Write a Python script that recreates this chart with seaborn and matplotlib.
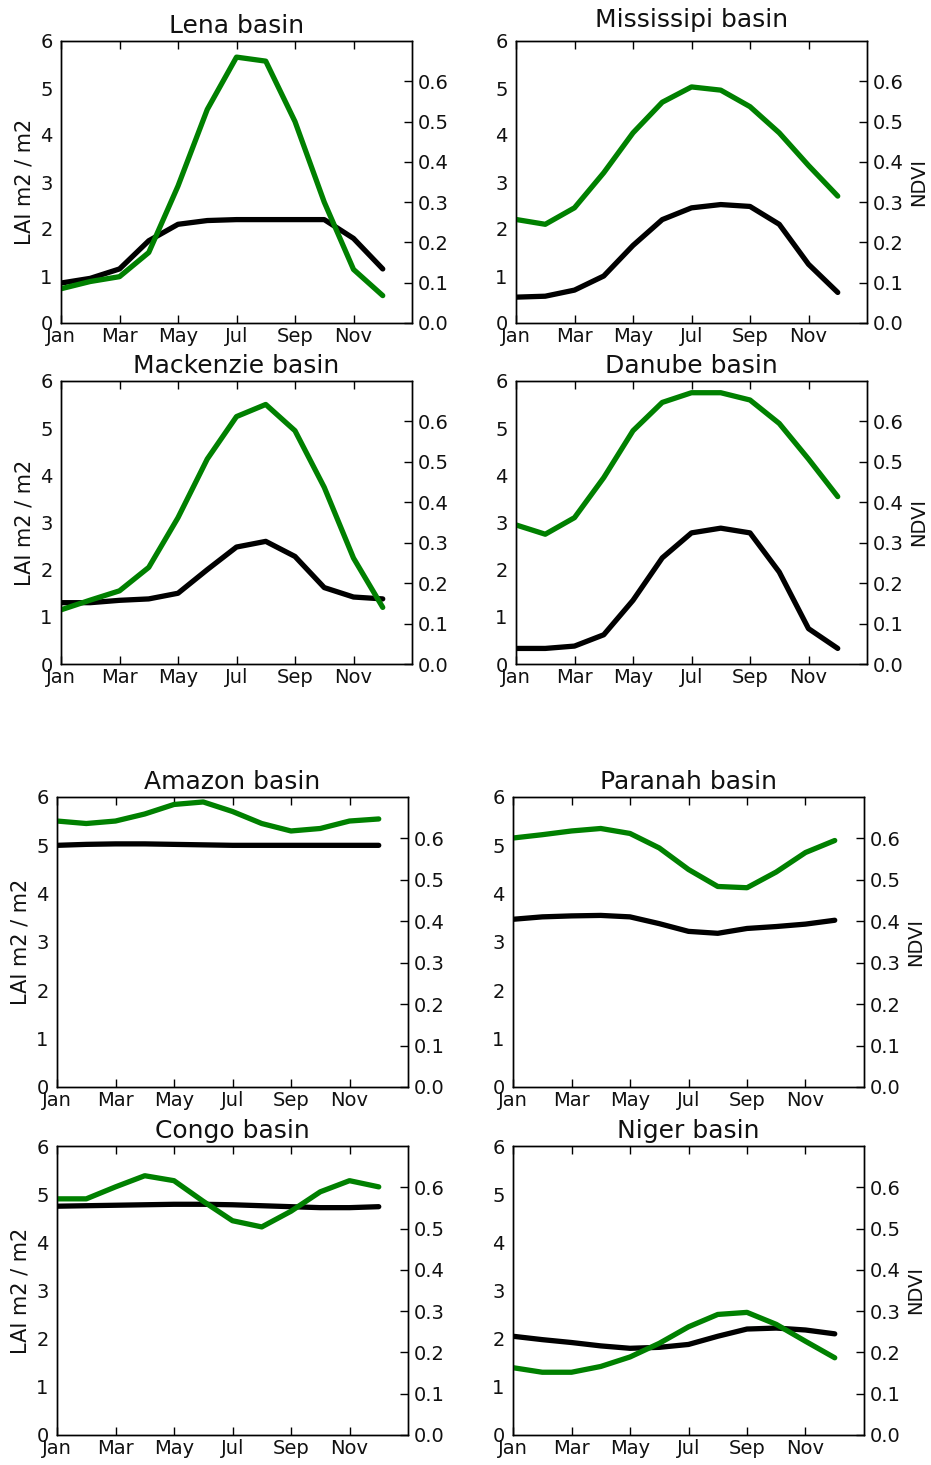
import numpy as np
import pandas as pd
import matplotlib
matplotlib.use("Agg")
import matplotlib.pyplot as plt
import seaborn as sns

# ---------------- data ----------------
months = ["Jan", "Feb", "Mar", "Apr", "May", "Jun", "Jul", "Aug", "Sep", "Oct", "Nov", "Dec"]
tick_months = ["Jan", "Mar", "May", "Jul", "Sep", "Nov"]
lai_ticks = [0, 1, 2, 3, 4, 5, 6]
ndvi_ticks = [0.0, 0.1, 0.2, 0.3, 0.4, 0.5, 0.6]

basins = ["Lena", "Mississipi", "Mackenzie", "Danube", "Amazon", "Paranah", "Congo", "Niger"]

lai_lena = [0.85, 0.95, 1.15, 1.75, 2.1, 2.18, 2.2, 2.2, 2.2, 2.2, 1.8, 1.15]
ndvi_lena = [0.085, 0.103, 0.115, 0.175, 0.34, 0.53, 0.66, 0.65, 0.50, 0.30, 0.133, 0.068]

lai_mississipi = [0.55, 0.57, 0.7, 1.0, 1.65, 2.2, 2.45, 2.52, 2.48, 2.1, 1.25, 0.65]
ndvi_mississipi = [0.257, 0.245, 0.286, 0.373, 0.472, 0.548, 0.586, 0.578, 0.537, 0.472, 0.391, 0.315]

lai_mackenzie = [1.3, 1.3, 1.35, 1.38, 1.5, 2.0, 2.48, 2.6, 2.28, 1.62, 1.42, 1.38]
ndvi_mackenzie = [0.134, 0.158, 0.181, 0.239, 0.362, 0.507, 0.612, 0.642, 0.577, 0.437, 0.262, 0.14]

lai_danube = [0.33, 0.33, 0.38, 0.62, 1.35, 2.25, 2.78, 2.88, 2.78, 1.95, 0.75, 0.33]
ndvi_danube = [0.344, 0.321, 0.362, 0.461, 0.577, 0.647, 0.671, 0.671, 0.653, 0.595, 0.507, 0.414]

lai_amazon = [5.0, 5.02, 5.03, 5.03, 5.02, 5.01, 5.0, 5.0, 5.0, 5.0, 5.0, 5.0]
ndvi_amazon = [0.642, 0.636, 0.642, 0.659, 0.682, 0.688, 0.665, 0.636, 0.618, 0.624, 0.642, 0.647]

lai_paranah = [3.47, 3.52, 3.54, 3.55, 3.52, 3.38, 3.22, 3.18, 3.28, 3.32, 3.37, 3.45]
ndvi_paranah = [0.601, 0.609, 0.618, 0.624, 0.612, 0.577, 0.525, 0.484, 0.481, 0.519, 0.566, 0.595]

lai_congo = [4.75, 4.76, 4.77, 4.78, 4.79, 4.79, 4.78, 4.76, 4.74, 4.72, 4.72, 4.74]
ndvi_congo = [0.572, 0.572, 0.601, 0.628, 0.616, 0.566, 0.519, 0.504, 0.542, 0.589, 0.616, 0.601]

lai_niger = [2.05, 1.98, 1.92, 1.85, 1.8, 1.82, 1.88, 2.05, 2.2, 2.22, 2.18, 2.1]
ndvi_niger = [0.163, 0.152, 0.152, 0.166, 0.189, 0.222, 0.262, 0.292, 0.297, 0.268, 0.227, 0.187]

lai_all = [lai_lena, lai_mississipi, lai_mackenzie, lai_danube,
           lai_amazon, lai_paranah, lai_congo, lai_niger]
ndvi_all = [ndvi_lena, ndvi_mississipi, ndvi_mackenzie, ndvi_danube,
            ndvi_amazon, ndvi_paranah, ndvi_congo, ndvi_niger]

# ---------------- style ----------------
sns.set_theme(style="white")
plt.rcParams["font.family"] = ["DejaVu Sans"]
plt.rcParams["axes.edgecolor"] = "black"
plt.rcParams["axes.linewidth"] = 1.0
plt.rcParams["text.color"] = "#111111"
plt.rcParams["axes.labelcolor"] = "#111111"
plt.rcParams["xtick.color"] = "black"
plt.rcParams["ytick.color"] = "black"
plt.rcParams["xtick.labelcolor"] = "#111111"
plt.rcParams["ytick.labelcolor"] = "#111111"

W, H = 931, 1465
fig = plt.figure(figsize=(W / 100, H / 100), dpi=100)
fig.patch.set_facecolor("white")

# panel pixel boxes (left, right, top, bottom)
boxes = [
    (61, 412, 41, 323), (516, 867, 41, 323),
    (61, 412, 381, 664), (516, 867, 381, 664),
    (57, 408, 797, 1087), (513, 864, 797, 1087),
    (57, 408, 1146, 1435), (513, 864, 1146, 1435),
]
title_pads = [6, 10, 6, 6, 6, 6, 6, 6]

x = np.arange(len(months))
for i, (name, lai, ndvi) in enumerate(zip(basins, lai_all, ndvi_all)):
    l, r, t, b = boxes[i]
    ax = fig.add_axes([l / W, 1 - b / H, (r - l) / W, (b - t) / H])
    df = pd.DataFrame({"month": x, "LAI": lai, "NDVI": ndvi})
    sns.lineplot(data=df, x="month", y="LAI", ax=ax, color="black", linewidth=3.8)
    ax.set_xlim(0, 12)
    ax.set_ylim(0, 6)
    ax.set_yticks(lai_ticks)
    ax.set_xticks(np.arange(0, 12, 2))
    ax.set_xticklabels(tick_months)
    ax.tick_params(axis="x", direction="in", length=6, width=1, top=True, bottom=True,
                   labelsize=14, pad=3)
    ax.tick_params(axis="y", direction="in", length=0, labelsize=14, pad=6)
    ax.set_xlabel("")
    if i % 2 == 0:
        ax.set_ylabel("LAI m2 / m2", fontsize=15, labelpad=4)
    else:
        ax.set_ylabel("")
    ax.set_title(f"{name} basin", fontsize=18, pad=title_pads[i])

    ax2 = ax.twinx()
    sns.lineplot(data=df, x="month", y="NDVI", ax=ax2, color="green", linewidth=3.8)
    ax2.set_ylim(0, 0.7)
    ax2.set_yticks(ndvi_ticks)
    ax2.set_yticklabels([f"{v:.1f}" for v in ndvi_ticks])
    ax2.tick_params(axis="y", direction="in", length=6, width=1, labelsize=14, pad=4)
    ax2.set_xlim(0, 12)
    if i % 2 == 1:
        ax2.set_ylabel("NDVI", fontsize=14, labelpad=4)
    else:
        ax2.set_ylabel("")
    for sp in ax2.spines.values():
        sp.set_color("black")

fig.savefig("out.png", dpi=100, facecolor="white")
